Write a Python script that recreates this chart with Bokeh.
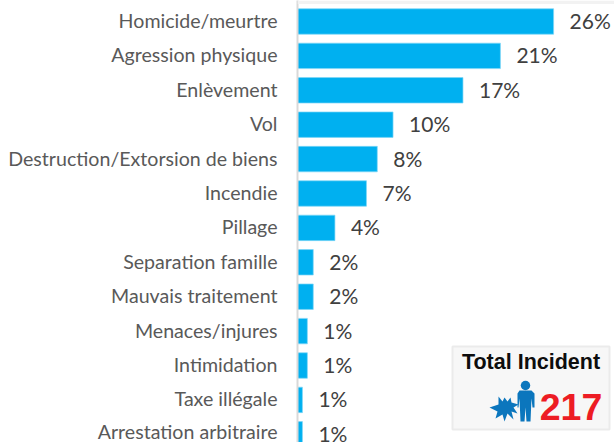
from bokeh.plotting import figure
from bokeh.models import Range1d, FixedTicker, PolyAnnotation
from bokeh.core.properties import value
from bokeh.embed import file_html
from bokeh.resources import INLINE

categories = ["Homicide/meurtre", "Agression physique", "Enlèvement", "Vol",
              "Destruction/Extorsion de biens", "Incendie", "Pillage",
              "Separation famille", "Mauvais traitement", "Menaces/injures",
              "Intimidation", "Taxe illégale", "Arrestation arbitraire"]
values = [26.0, 20.6, 16.8, 9.7, 8.1, 7.0, 3.8, 1.6, 1.6, 1.0, 1.0, 0.5, 0.5]
labels = ["26%", "21%", "17%", "10%", "8%", "7%", "4%", "2%", "2%", "1%", "1%", "1%", "1%"]
total_title = "Total Incident"
total_value = "217"

positions = list(range(len(categories)))

FIG_W, FIG_H = 614, 442
LEFT = 297

p = figure(width=FIG_W, height=FIG_H, output_backend="svg", toolbar_location=None,
           x_range=Range1d(0, (FIG_W - LEFT) / 9.85),
           y_range=Range1d(12.238, -0.61),
           min_border_left=LEFT, min_border_right=0, min_border_top=0, min_border_bottom=0,
           outline_line_color=None, background_fill_color="white", border_fill_color="white")
p.extra_x_ranges = {"px": Range1d(LEFT, FIG_W)}
p.extra_y_ranges = {"px": Range1d(FIG_H, 0)}

p.xaxis.visible = False
p.xgrid.visible = False
p.ygrid.visible = False
ax = p.yaxis[0]
tick_pos = [i - 0.03 for i in positions]
ax.ticker = FixedTicker(ticks=tick_pos)
ax.major_label_overrides = {t: c for t, c in zip(tick_pos, categories)}
ax.major_tick_line_color = None
ax.minor_tick_line_color = None
ax.major_tick_out = 0
ax.major_tick_in = 0
ax.major_label_standoff = 20
ax.axis_line_color = "#d9d9d9"
ax.axis_line_width = 2
ax.major_label_text_font = "Lato"
ax.major_label_text_font_size = "19.6px"
ax.major_label_text_color = "#595959"

p.hbar(y=positions, left=0, right=values, height=0.74, fill_color="#00b0f0", line_color="#7fd7f7", line_width=0.7)
p.text(x=values, y=positions, text=labels, x_offset=16, y_offset=-1, text_baseline="middle", text_align="left",
       text_font=value("Lato"), text_font_size="21px", text_color="#404040")

# Total incident panel (decoration, in page pixels)
kw = dict(x_range_name="px", y_range_name="px")
p.quad(left=452, right=609, top=346, bottom=429, fill_color="#f7f7f7", line_color="#ebebeb", line_width=2, **kw)
p.text(x=[530.5], y=[361], text=[total_title], text_align="center", text_baseline="middle",
       text_font=value("Liberation Sans"), text_font_style="bold", text_font_size="21.5px",
       text_color="#0d0d0d", **kw)
p.text(x=[570.5], y=[406], text=[total_value], text_align="center", text_baseline="middle",
       text_font=value("Liberation Sans"), text_font_style="bold", text_font_size="37.5px",
       text_color="#ed1c24", **kw)
blue = "#0b76bd"
p.scatter(x=[525], y=[385], size=9.5, marker="circle", fill_color=blue, line_color=None, **kw)
p.patch(x=[519, 531, 534, 534, 532, 531, 530, 526, 525, 524, 520, 519, 518, 517, 517],
        y=[390, 390, 393, 407, 407, 398, 421, 421, 407, 421, 421, 398, 407, 407, 393],
        fill_color=blue, line_color=None, **kw)
p.patch(x=[489, 498, 498, 502, 504, 507, 510, 511, 518, 513, 517, 511, 513, 507, 504, 502, 495, 497],
        y=[407, 404, 396, 401, 397, 401, 397, 402, 404, 407, 413, 411, 419, 413, 421, 414, 418, 411],
        fill_color=blue, line_color=None, **kw)

# Light strip along the very top of the picture (screen y counts from the bottom)
p.add_layout(PolyAnnotation(xs=[0, FIG_W, FIG_W, 0], ys=[FIG_H, FIG_H, FIG_H - 3.5, FIG_H - 3.5],
                            xs_units="screen", ys_units="screen",
                            fill_color="#f2f2f2", fill_alpha=1, line_color=None, editable=False))

open("out.html", "w").write(file_html(p, INLINE))
